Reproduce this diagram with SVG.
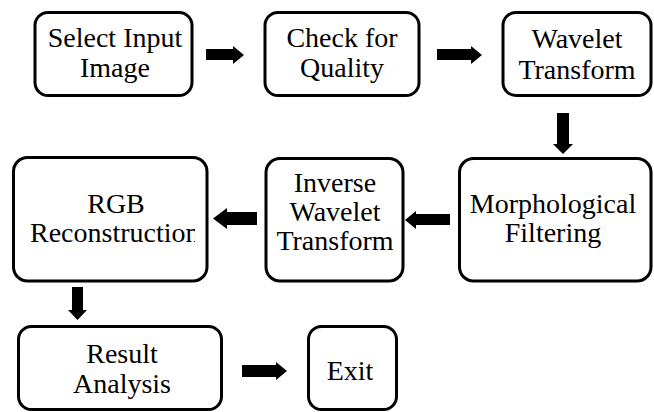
<svg xmlns="http://www.w3.org/2000/svg" width="654" height="412" viewBox="0 0 654 412">
<style>
.box{fill:#fff;stroke:#000;stroke-width:3}
.t{font-family:"Liberation Serif","Times New Roman",serif;font-size:28px;fill:#000;text-anchor:middle}
.arr{fill:#000}
</style>
<defs>
<clipPath id="clipRGB"><rect x="14" y="150" width="181" height="130"/></clipPath>
</defs>
<rect width="654" height="412" fill="#fff"/>
<g id="n1"><rect class="box" x="35" y="12.5" width="157" height="83" rx="13"/><text class="t" x="115" y="47">Select Input</text><text class="t" x="115" y="77">Image</text></g>
<g id="n2"><rect class="box" x="265" y="12.5" width="154" height="83" rx="13"/><text class="t" x="342" y="47">Check for</text><text class="t" x="342" y="77">Quality</text></g>
<g id="n3"><rect class="box" x="503" y="12.5" width="148" height="83" rx="13"/><text class="t" x="577" y="48">Wavelet</text><text class="t" x="577" y="79">Transform</text></g>
<g id="n4"><rect class="box" x="459.5" y="158.5" width="191.5" height="122.5" rx="14"/><text class="t" x="553" y="213">Morphological</text><text class="t" x="553" y="242">Filtering</text></g>
<g id="n5"><rect class="box" x="266" y="158.5" width="137" height="122.5" rx="14"/><text class="t" x="335" y="192">Inverse</text><text class="t" x="335" y="221">Wavelet</text><text class="t" x="335" y="250">Transform</text></g>
<g id="n6"><rect class="box" x="13.5" y="157.5" width="193.5" height="123.5" rx="14"/><text class="t" x="116" y="213">RGB</text><text class="t" x="30" y="242" clip-path="url(#clipRGB)" style="text-anchor:start">Reconstruction</text></g>
<g id="n7"><rect class="box" x="18.5" y="326.5" width="203" height="83" rx="13"/><text class="t" x="122" y="363">Result</text><text class="t" x="122" y="393">Analysis</text></g>
<g id="n8"><rect class="box" x="308.5" y="326.5" width="88" height="83" rx="13"/><text class="t" x="350" y="380">Exit</text></g>
<g id="connectors">
<polygon class="arr" points="206,49 233,49 233,46 244,55 233,64 233,60 206,60"/>
<polygon class="arr" points="437,49 471,49 471,46 482,55 471,64 471,60 437,60"/>
<polygon class="arr" points="557,113 569,113 569,144 573,144 563,154 553,144 557,144"/>
<polygon class="arr" points="450,214 416,214 416,211 405,220 416,229 416,225 450,225"/>
<polygon class="arr" points="257,212 227,212 227,208 213,218.5 227,229 227,225 257,225"/>
<polygon class="arr" points="72,287 83,287 83,310 87,310 77.5,320 68,310 72,310"/>
<polygon class="arr" points="242,365 276,365 276,362 287,371 276,380 276,377 242,377"/>
</g>
</svg>
